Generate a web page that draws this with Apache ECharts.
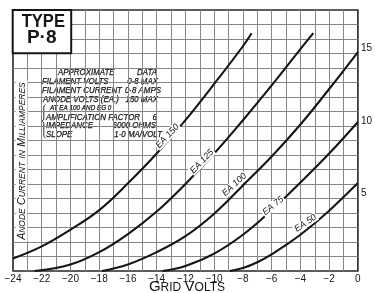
<!DOCTYPE html>
<html>
<head>
<meta charset="utf-8">
<script src="https://cdn.jsdelivr.net/npm/echarts@6/dist/echarts.min.js"></script>
<style>
  html, body { margin: 0; padding: 0; background: #fff; }
  #chart { width: 375px; height: 293px; }
</style>
</head>
<body>
<div id="chart"></div>
<script>
// grid volts / anode current (mA), one pair per anode voltage
const ea150Volts = [-24, -22, -20, -18, -16, -14, -12, -10, -8, -7.4];
const ea150Amps  = [0.86, 1.7, 2.85, 4.2, 6.05, 8.1, 10.4, 12.9, 15.5, 16.4];
const ea125Volts = [-22.5, -20, -18, -16, -14, -12, -10, -8, -6, -4, -3.1];
const ea125Amps  = [0, 0.45, 1.3, 2.55, 4.1, 6.0, 8.1, 10.4, 12.8, 15.3, 16.4];
const ea100Volts = [-17.8, -16, -14, -12, -10, -8, -6, -4, -2, 0];
const ea100Amps  = [0, 0.45, 1.3, 2.4, 3.95, 5.9, 7.9, 10.1, 12.55, 15.1];
const ea75Volts  = [-13.6, -12, -10, -8, -6, -4, -2, 0];
const ea75Amps   = [0, 0.35, 1.2, 2.5, 4.2, 6.1, 8.1, 10.28];
const ea50Volts  = [-8.9, -8, -7, -6, -5, -4, -3, -2, -1, 0];
const ea50Amps   = [0, 0.2, 0.6, 1.15, 1.8, 2.5, 3.3, 4.15, 5.1, 6.07];

const curveNames = ['EA 150', 'EA 125', 'EA 100', 'EA 75', 'EA 50'];
const yTickLabels = [5, 10, 15];

const dataHeader = ['APPROXIMATE', 'DATA'];
const dataRows = [
  ['FILAMENT VOLTS', '0·8 MAX'],
  ['FILAMENT CURRENT', '0·8 AMPS'],
  ['ANODE VOLTS (EA.)', '150 MAX'],
  ['AT EA 100 AND EG 0', ''],
  ['AMPLIFICATION FACTOR', '6'],
  ['IMPEDANCE', '6000 OHMS'],
  ['SLOPE', '1·0 MA/VOLT']
];

const FONT = '"Liberation Sans", Arial, sans-serif';
const INK = '#151515';
const GRIDLINE = '#858585';

var chart = echarts.init(document.getElementById('chart'), null, { renderer: 'canvas' });

// one smooth curve + its slanted name tag
function curve(name, volts, amps, tag) {
  return {
    name: name,
    type: 'line',
    data: volts.map(function (v, i) { return [v, amps[i]]; }),
    smooth: 0.4,
    showSymbol: false,
    silent: true,
    lineStyle: { color: INK, width: 2.1 },
    markPoint: {
      symbol: 'rect',
      symbolSize: 1,
      itemStyle: { color: 'rgba(0,0,0,0)' },
      silent: true,
      data: [{ coord: tag.at, value: name }],
      label: {
        show: true,
        position: 'inside',
        formatter: name,
        rotate: tag.rot,
        fontSize: 9,
        fontStyle: 'italic',
        fontFamily: FONT,
        color: INK,
        backgroundColor: '#fff',
        padding: [0, 1]
      }
    }
  };
}

// text rows of the data panel
var panel = [];
panel.push({ type: 'rect', shape: { x: 37, y: 64, width: 128, height: 76 }, style: { fill: '#fff' } });
var rowY = [81.5, 90.5, 99.3, 108.2, 117.2, 126, 134.8];
var rowLeft = [42, 42, 43, 50, 46, 46, 46];
var rowRight = [158, 161, 158, 0, 157, 156, 162];
function panelText(x, y, txt, align, size) {
  return {
    type: 'text', x: x, y: y, scaleX: 0.93,
    style: {
      text: txt, fontSize: size || 8.5, fontStyle: 'italic', fontFamily: FONT, fill: INK,
      stroke: INK, lineWidth: 0.25,
      align: align, textAlign: align, verticalAlign: 'middle', textVerticalAlign: 'middle'
    }
  };
}
panel.push(panelText(58, 72.5, dataHeader[0], 'left'));
panel.push(panelText(157, 72.5, dataHeader[1], 'right'));
dataRows.forEach(function (r, i) {
  panel.push(panelText(rowLeft[i], rowY[i], r[0], 'left', i === 3 ? 6.8 : 8.5));
  if (r[1]) panel.push(panelText(rowRight[i], rowY[i], r[1], 'right'));
});
// brace in front of the last rows
panel.push({
  type: 'polyline',
  shape: { points: [[45.5, 104.5], [43.8, 106], [43.8, 119], [42.3, 121], [43.8, 123], [43.8, 136.5], [45.5, 138]] },
  style: { stroke: INK, lineWidth: 0.9, fill: null }
});

var option = {
  animation: false,
  backgroundColor: '#fff',
  grid: {
    left: 13, right: 12, top: 10, bottom: 22,
    show: true, borderColor: '#262626', borderWidth: 1.6
  },
  xAxis: {
    type: 'value', min: -24, max: 0, interval: 1,
    axisLine: { show: false },
    axisTick: { show: false },
    splitLine: { show: true, showMinLine: false, showMaxLine: false, lineStyle: { color: GRIDLINE, width: 1 } },
    axisLabel: {
      margin: 3, fontSize: 10, color: INK, fontFamily: FONT,
      formatter: function (v) {
        if (v % 2 !== 0) return '';
        return v < 0 ? '\u2212' + (-v) : '0';
      }
    }
  },
  yAxis: {
    type: 'value', position: 'right', min: 0, max: 18, interval: 1,
    axisLine: { show: false },
    axisTick: { show: false },
    splitLine: { show: true, showMinLine: false, showMaxLine: false, lineStyle: { color: GRIDLINE, width: 1 } },
    axisLabel: {
      margin: 3, fontSize: 10, color: INK, fontFamily: FONT, verticalAlign: 'bottom',
      formatter: function (v) { return yTickLabels.indexOf(v) >= 0 ? String(v) : ''; }
    }
  },
  series: [
    curve(curveNames[0], ea150Volts, ea150Amps, { at: [-13.25, 9.3], rot: 47 }),
    curve(curveNames[1], ea125Volts, ea125Amps, { at: [-10.85, 7.55], rot: 46 }),
    curve(curveNames[2], ea100Volts, ea100Amps, { at: [-8.6, 5.95], rot: 43 }),
    curve(curveNames[3], ea75Volts, ea75Amps, { at: [-5.9, 4.5], rot: 39 }),
    curve(curveNames[4], ea50Volts, ea50Amps, { at: [-3.65, 3.3], rot: 34 })
  ],
  graphic: {
    elements: [
      // TYPE P·8 box
      { type: 'rect', z: 10, shape: { x: 12.7, y: 10, width: 58.5, height: 43.3 }, style: { fill: '#fff', stroke: INK, lineWidth: 2 } },
      { type: 'text', z: 11, x: 43.3, y: 21.8, scaleX: 0.92,
        style: { text: 'TYPE', fontSize: 18, fontWeight: 'bold', fontFamily: FONT, fill: INK, align: 'center', textAlign: 'center', verticalAlign: 'middle', textVerticalAlign: 'middle' } },
      { type: 'text', z: 11, x: 41.7, y: 38,
        style: { text: 'P·8', fontSize: 19, fontWeight: 'bold', fontFamily: FONT, fill: INK, align: 'center', textAlign: 'center', verticalAlign: 'middle', textVerticalAlign: 'middle' } },
      { type: 'group', z: 10, children: panel },
      // y axis title inside the plot
      { type: 'text', z: 10, x: 21.5, y: 161, rotation: Math.PI / 2,
        style: {
          text: '{b|A}{s|NODE} {b|C}{s|URRENT} {s|IN} {b|M}{s|ILLIAMPERES}',
          align: 'center', textAlign: 'center', verticalAlign: 'middle', textVerticalAlign: 'middle',
          backgroundColor: '#fff', padding: [0, 2],
          rich: {
            b: { fontSize: 10.5, fontStyle: 'italic', fontFamily: FONT, fill: INK, color: INK, verticalAlign: 'bottom' },
            s: { fontSize: 8.5, fontStyle: 'italic', fontFamily: FONT, fill: INK, color: INK, verticalAlign: 'bottom' }
          }
        } },
      // x axis title
      { type: 'text', z: 10, x: 187, y: 286.5,
        style: {
          text: '{b|G}{s|RID} {b|V}{s|OLTS}',
          align: 'center', textAlign: 'center', verticalAlign: 'middle', textVerticalAlign: 'middle',
          rich: {
            b: { fontSize: 15, fontFamily: FONT, fill: INK, color: INK, verticalAlign: 'bottom' },
            s: { fontSize: 12, fontFamily: FONT, fill: INK, color: INK, verticalAlign: 'bottom' }
          }
        } }
    ]
  }
};
chart.setOption(option);
</script>
</body>
</html>
